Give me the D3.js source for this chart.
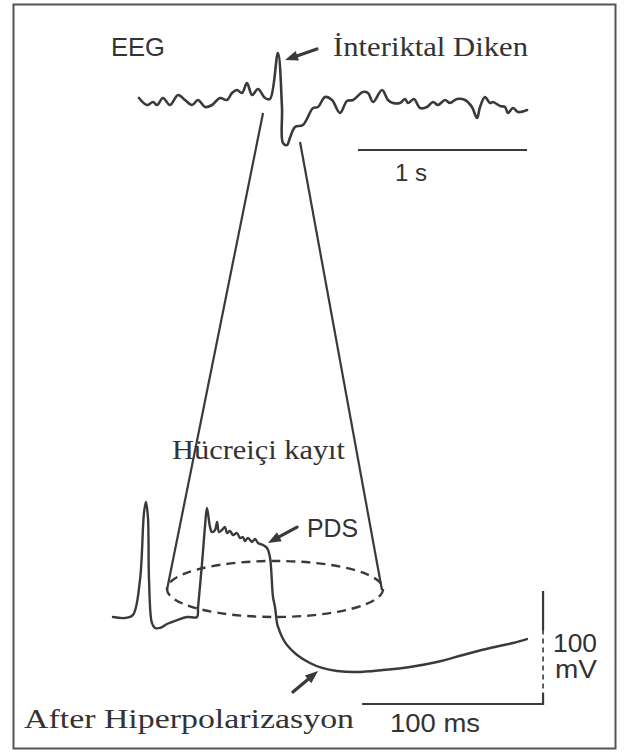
<!DOCTYPE html>
<html>
<head>
<meta charset="utf-8">
<script src="https://cdn.jsdelivr.net/npm/d3@7"></script>
<style>
  html, body { margin: 0; padding: 0; background: #fff; }
  svg { display: block; }
</style>
</head>
<body>
<svg id="chart" width="624" height="753"></svg>
<script>
// ---------- DATA ----------
// EEG trace: time (s) and amplitude (arbitrary µV units, baseline 0)
const eegTime = [0.000,0.047,0.083,0.107,0.142,0.183,0.231,0.272,0.314,0.349,0.391,0.432,0.479,0.521,0.550,0.580,0.609,0.639,0.669,0.704,0.746,0.775,0.822,0.846,0.852,0.876,0.893,0.923,0.970,1.030,1.059,1.101,1.142,1.189,1.231,1.266,1.325,1.355,1.385,1.438,1.473,1.503,1.544,1.574,1.592,1.627,1.663,1.704,1.740,1.769,1.811,1.840,1.882,1.929,1.970,2.000,2.018,2.047,2.077,2.095,2.136,2.166,2.183,2.213,2.243,2.296];
const eegAmp  = [2,-5,-2,-5,2,-5,5,0,-5,0,-7,-5,2,0,7,10,7,17,5,11,2,1,47,-7,-43,-45,-38,-27,-25,-8,-7,3,0,-13,-1,0,8,7,-2,10,0,-3,-3,1,-3,1,-8,-7,-2,-5,0,-3,1,0,-7,-18,-7,3,-3,-2,-6,-7,-13,-8,-12,-10];

// Intracellular recording: time (ms) and membrane potential (mV)
const icTime = [0,6.6,11.0,14.9,17.1,18.2,19.3,19.9,21.5,23.2,26.0,29.8,35.4,40.9,46.4,47.0,49.2,50.8,51.9,53.6,54.7,56.4,57.5,58.6,60.2,61.9,63.0,64.6,66.3,68.5,70.2,71.8,72.9,74.6,76.8,78.5,80.1,82.9,85.1,86.7,88.4,89.5,90.6,91.2,93.4,96.1,101.7,108.8,115.5,123.8,134.8,149.2,164.1,179.0,193.4,208.3,221.0,228.7];
const icVolt = [-65,-65.9,-63.2,-32.3,27.0,36.8,23.5,-32.3,-70.3,-74.7,-74.7,-71.2,-67.7,-65,-65,-56.2,-17.2,14.6,31.5,14.6,10.2,12.0,19.1,10.2,12.0,14.6,9.3,11.1,7.6,9.3,4.9,5.8,2.3,4.9,1.4,4.0,0.5,-1.3,-3.9,-11.9,-47.3,-56.2,-70.3,-73.8,-82.7,-89.8,-98.6,-105.7,-110.1,-112.8,-113.7,-111.9,-109.2,-104.8,-98.6,-92.4,-88.0,-84.5];

// Scale bars
const eegBar = { start: 1.296, length: 1, level: -50 };          // 1 s
const icBarTime = { start: 137.6, length: 100, level: -142 };     // 100 ms
const icBarVolt = { time: 237.6, from: -142, length: 100 };       // 100 mV

// Cone linking the EEG spike to the intracellular record
const coneTopEEG = [{ t: 0.734, v: -13 }, { t: 0.953, v: -42 }];
const coneBottomIC = [{ t: 29.8, v: -41.1 }, { t: 148.6, v: -41.1 }];
const ellipseIC = { t: 89.5, v: -40.2, rt: 59.7, rv: 24.8 };

// Annotation arrows (tail -> tip)
const arrowSpike = { tail: { t: 1.053, v: 51 }, tip: { t: 0.864, v: 40 } };
const arrowPDS   = { tail: { t: 101.7, v: 14.6 }, tip: { t: 85.6, v: 0.5 } };
const arrowAHP   = { tail: { t: 99.4, v: -131.4 }, tip: { t: 113.3, v: -112.8 } };

// Labels
const labels = {
  eeg: "EEG", spike: "İnteriktal Diken", sec: "1 s",
  intra: "Hücreiçi kayıt", pds: "PDS", mv1: "100", mv2: "mV",
  ms: "100 ms", ahp: "After Hiperpolarizasyon"
};

// ---------- SCALES ----------
const eegX = d3.scaleLinear().domain([0, 1]).range([139, 308]);
const eegY = d3.scaleLinear().domain([0, 50]).range([100, 50]);
const icX  = d3.scaleLinear().domain([0, 100]).range([113, 294]);
const icY  = d3.scaleLinear().domain([-65, 35]).range([617, 504]);

const svg = d3.select("#chart");
const ink = "#3a3a3a";

// Border
svg.append("rect").attr("x", 13.5).attr("y", 4.5).attr("width", 602).attr("height", 744)
  .attr("fill", "none").attr("stroke", "#555").attr("stroke-width", 2);

const curve = d3.curveCatmullRom.alpha(0.5);

// EEG trace
const eegData = eegTime.map((t, i) => ({ t, v: eegAmp[i] }));
svg.append("path").datum(eegData)
  .attr("d", d3.line().x(d => eegX(d.t)).y(d => eegY(d.v)).curve(curve))
  .attr("fill", "none").attr("stroke", ink).attr("stroke-width", 2.6)
  .attr("stroke-linejoin", "round").attr("stroke-linecap", "round");

// Intracellular trace
const icData = icTime.map((t, i) => ({ t, v: icVolt[i] }));
svg.append("path").datum(icData)
  .attr("d", d3.line().x(d => icX(d.t)).y(d => icY(d.v)).curve(curve))
  .attr("fill", "none").attr("stroke", ink).attr("stroke-width", 2.4)
  .attr("stroke-linejoin", "round").attr("stroke-linecap", "round");

// Cone lines
coneTopEEG.forEach((top, i) => {
  const b = coneBottomIC[i];
  svg.append("line")
    .attr("x1", eegX(top.t)).attr("y1", eegY(top.v))
    .attr("x2", icX(b.t)).attr("y2", icY(b.v))
    .attr("stroke", ink).attr("stroke-width", 2.2);
});

// Dashed ellipse
const ecx = icX(ellipseIC.t), ecy = icY(ellipseIC.v);
const erx = icX(ellipseIC.t + ellipseIC.rt) - ecx;
const ery = icY(ellipseIC.v - ellipseIC.rv) - ecy;
svg.append("ellipse").attr("cx", ecx).attr("cy", ecy).attr("rx", erx).attr("ry", ery)
  .attr("fill", "none").attr("stroke", ink).attr("stroke-width", 2.4)
  .attr("stroke-dasharray", "9,6");

// Scale bars
svg.append("line")
  .attr("x1", eegX(eegBar.start)).attr("x2", eegX(eegBar.start + eegBar.length))
  .attr("y1", eegY(eegBar.level)).attr("y2", eegY(eegBar.level))
  .attr("stroke", ink).attr("stroke-width", 2.2);

svg.append("line")
  .attr("x1", icX(icBarTime.start)).attr("x2", icX(icBarTime.start + icBarTime.length))
  .attr("y1", icY(icBarTime.level)).attr("y2", icY(icBarTime.level))
  .attr("stroke", ink).attr("stroke-width", 2.2);

const vbx = icX(icBarVolt.time);
const vSeg = [
  { a: icBarVolt.from + icBarVolt.length, b: icBarVolt.from + icBarVolt.length - 34, dash: null, w: 2.2 },
  { a: icBarVolt.from + icBarVolt.length - 34, b: icBarVolt.from + 10, dash: "5,4", w: 1.6 },
  { a: icBarVolt.from + 10, b: icBarVolt.from, dash: null, w: 2.2 }
];
vSeg.forEach(s => {
  svg.append("line").attr("x1", vbx).attr("x2", vbx)
    .attr("y1", icY(s.a)).attr("y2", icY(s.b) + (s.dash ? 0 : 1))
    .attr("stroke", ink).attr("stroke-width", s.w)
    .attr("stroke-dasharray", s.dash);
});

// Arrows
function arrow(x1, y1, x2, y2) {
  const dx = x2 - x1, dy = y2 - y1, L = Math.hypot(dx, dy);
  const ux = dx / L, uy = dy / L, px = -uy, py = ux;
  const hl = 13, hw = 5;
  const bx = x2 - ux * hl, by = y2 - uy * hl;
  svg.append("line").attr("x1", x1).attr("y1", y1).attr("x2", bx + ux * 2).attr("y2", by + uy * 2)
    .attr("stroke", ink).attr("stroke-width", 3.2).attr("stroke-linecap", "round");
  svg.append("path")
    .attr("d", `M${x2},${y2}L${bx + px * hw},${by + py * hw}L${bx - px * hw},${by - py * hw}Z`)
    .attr("fill", ink);
}
arrow(eegX(arrowSpike.tail.t), eegY(arrowSpike.tail.v), eegX(arrowSpike.tip.t), eegY(arrowSpike.tip.v));
arrow(icX(arrowPDS.tail.t), icY(arrowPDS.tail.v), icX(arrowPDS.tip.t), icY(arrowPDS.tip.v));
arrow(icX(arrowAHP.tail.t), icY(arrowAHP.tail.v), icX(arrowAHP.tip.t), icY(arrowAHP.tip.v));

// Text
const sans = "'Liberation Sans', Arial, sans-serif";
const serif = "'Liberation Serif', 'Times New Roman', serif";
function label(txt, x, y, size, family, len, anchor) {
  const t = svg.append("text").attr("x", x).attr("y", y).text(txt)
    .attr("font-family", family).attr("font-size", size).attr("fill", "#333");
  if (len) t.attr("textLength", len).attr("lengthAdjust", "spacingAndGlyphs");
  if (anchor) t.attr("text-anchor", anchor);
  return t;
}
label(labels.eeg, 111, 56, 26, sans, 54);
label(labels.spike, 333, 56, 28, serif, 195);
label(labels.sec, 411, 181, 24, sans, null, "middle");
label(labels.intra, 172, 459, 28, serif, 173);
label(labels.pds, 307, 537, 25, sans, 51);
label(labels.mv1, 553, 652, 25, sans, 44);
label(labels.mv2, 555, 678, 25, sans, 42);
label(labels.ms, 390, 732, 25, sans, 90);
label(labels.ahp, 24, 728, 28, serif, 330);
</script>
</body>
</html>
